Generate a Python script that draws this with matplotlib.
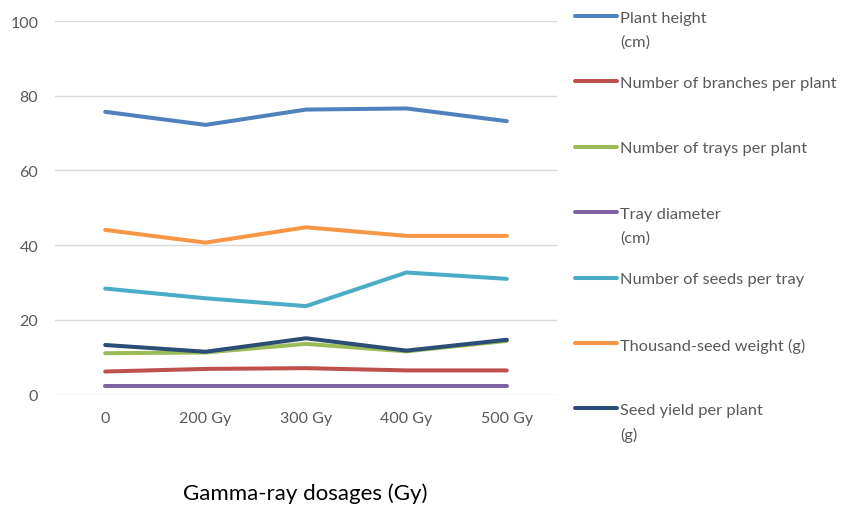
import matplotlib.pyplot as plt
from matplotlib.lines import Line2D

# dose levels on the category axis
doses = ['0', '200 Gy', '300 Gy', '400 Gy', '500 Gy']

# trait means per dose
plant_height = [75.7, 72.2, 76.3, 76.6, 73.2]
branches_per_plant = [6.2, 6.9, 7.1, 6.5, 6.5]
trays_per_plant = [11.1, 11.3, 13.6, 11.6, 14.4]
tray_diameter = [2.2, 2.2, 2.2, 2.2, 2.2]
seeds_per_tray = [28.4, 25.8, 23.7, 32.7, 31.0]
thousand_seed_weight = [44.1, 40.7, 44.8, 42.5, 42.5]
seed_yield = [13.3, 11.5, 15.1, 11.8, 14.7]

series_names = ['Plant height\n(cm)', 'Number of branches per plant',
                'Number of trays per plant', 'Tray diameter\n(cm)',
                'Number of seeds per tray', 'Thousand-seed weight (g)',
                'Seed yield per plant\n(g)']
series_values = [plant_height, branches_per_plant, trays_per_plant, tray_diameter,
                 seeds_per_tray, thousand_seed_weight, seed_yield]
colors = ['#4F81BD', '#C0504D', '#9BBB59', '#8064A2', '#4BACC6', '#F79646', '#2C4D75']

plt.rcParams['font.family'] = ['Lato', 'DejaVu Sans']

W, H = 843, 506
fig = plt.figure(figsize=(W / 100, H / 100), dpi=100)
ax = fig.add_axes([55 / W, (H - 395.7) / H, 502 / W, 373.7 / H])

x = list(range(len(doses)))
for vals, c in zip(series_values, colors):
    ax.plot(x, vals, color=c, lw=2.9, solid_capstyle='round', solid_joinstyle='miter')

ax.set_xlim(-0.5, len(doses) - 0.5)
ax.set_ylim(0, 100)
ax.set_yticks(range(0, 101, 20))
ax.set_xticks(x)
ax.set_xticklabels(doses)
ax.grid(axis='y', color='#D9D9D9', lw=1)
ax.set_axisbelow(True)
for s in ax.spines.values():
    s.set_visible(False)
ax.tick_params(length=0, labelsize=11.5, colors='#595959')
ax.tick_params(axis='y', pad=12)
ax.tick_params(axis='x', pad=12)

fig.text(305 / W, 1 - 494 / H, 'Gamma-ray dosages (Gy)', ha='center', va='center',
         fontsize=16, color='black')

# legend drawn by hand so that entries sit at an even pitch
for i, (name, c) in enumerate(zip(series_names, colors)):
    y = 17 + i * 65.4
    fig.add_artist(Line2D([575 / W, 617 / W], [1 - y / H, 1 - y / H], color=c,
                          lw=2.9, solid_capstyle='round', transform=fig.transFigure))
    fig.text(620 / W, 1 - (y - 5.5) / H, name, ha='left', va='top', fontsize=11.8,
             color='#595959', linespacing=1.85)

fig.savefig('out.png', dpi=100, facecolor='white')
